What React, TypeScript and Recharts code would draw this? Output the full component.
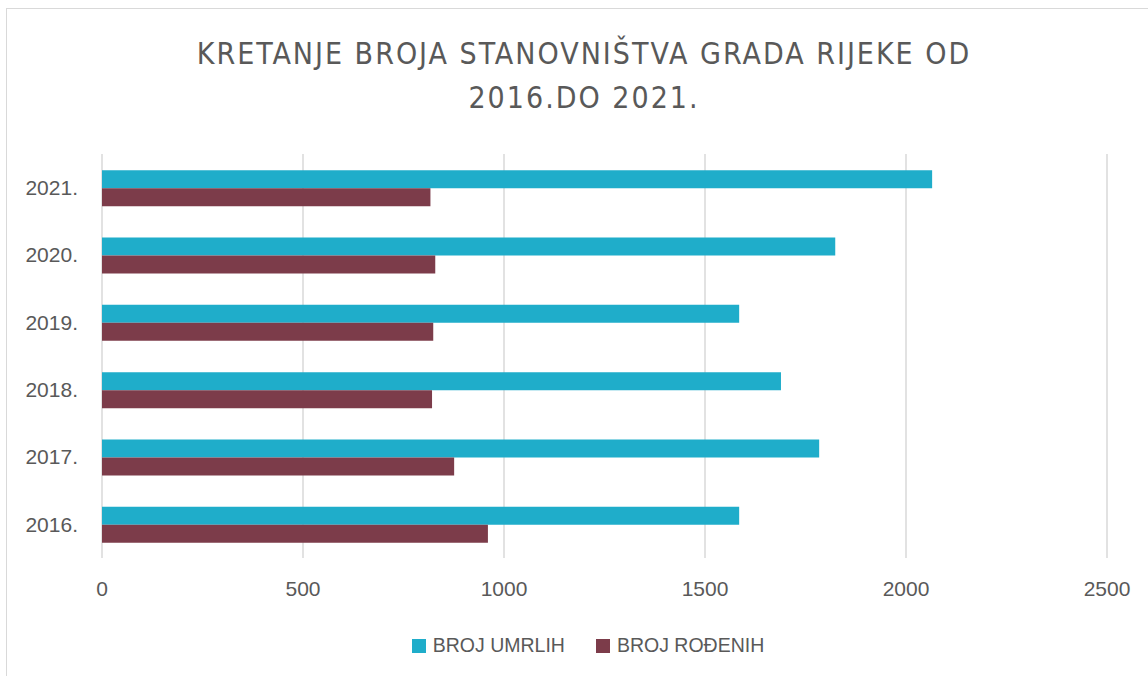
import { BarChart, Bar, XAxis, YAxis, CartesianGrid, Legend } from 'recharts'

const years = ['2016.', '2017.', '2018.', '2019.', '2020.', '2021.']
const brojUmrlih = [1585, 1784, 1689, 1585, 1824, 2065]
const brojRodjenih = [960, 876, 821, 824, 829, 817]
const xTicks = [0, 500, 1000, 1500, 2000, 2500]
const seriesNames = ['BROJ UMRLIH', 'BROJ ROĐENIH']

const data = years.map((year, i) => ({
  year,
  umrlih: brojUmrlih[i],
  rodjenih: brojRodjenih[i],
}))

const textColor = '#595959'
const tickFont = '"Liberation Sans", Arial, sans-serif'

function renderLegend(props: any) {
  // keep the series order, recharts sorts legend items by name otherwise
  const items = [...(props.payload || [])].sort(
    (a: any, b: any) => seriesNames.indexOf(a.value) - seriesNames.indexOf(b.value)
  )
  return (
    <div style={{ display: 'flex', justifyContent: 'center', alignItems: 'center' }}>
      {items.map((item: any, i: number) => (
        <div
          key={item.value}
          style={{ display: 'flex', alignItems: 'center', marginLeft: i > 0 ? 31 : 0 }}
        >
          <span style={{ width: 14, height: 14, background: item.color, marginRight: 7 }} />
          <span style={{ fontFamily: tickFont, fontSize: 19.5, color: textColor }}>{item.value}</span>
        </div>
      ))}
    </div>
  )
}

export default function App() {
  return (
    <div style={{ position: 'fixed', left: 0, top: 0, width: 1148, height: 676, overflow: 'hidden', background: '#fff' }}>
      {/* outer frame, runs off the right and bottom edges like the source */}
      <div
        style={{
          position: 'absolute',
          left: 6,
          top: 8,
          width: 1200,
          height: 700,
          border: '1.5px solid #d9d9d9',
        }}
      />
      <div
        style={{
          position: 'absolute',
          left: 0,
          top: 32,
          width: 1168,
          textAlign: 'center',
          fontFamily: '"DejaVu Sans Condensed", "DejaVu Sans", sans-serif',
          fontSize: 30,
          lineHeight: '44px',
          letterSpacing: 2,
          color: textColor,
        }}
      >
        KRETANJE BROJA STANOVNIŠTVA GRADA RIJEKE OD
        <br />
        2016.DO 2021.
      </div>
      <div style={{ position: 'absolute', left: 0, top: 0 }}>
        <BarChart
          width={1148}
          height={676}
          data={data}
          layout="vertical"
          margin={{ top: 154, right: 41, bottom: 78, left: 0 }}
          barCategoryGap="24%"
          barGap={0}
        >
          <CartesianGrid horizontal={false} stroke="#d9d9d9" strokeWidth={1.5} />
          <XAxis
            type="number"
            domain={[0, 2500]}
            ticks={xTicks}
            height={40}
            axisLine={false}
            tickLine={false}
            tickSize={0}
            tickMargin={23}
            tick={{ fill: textColor, fontSize: 21, fontFamily: tickFont }}
          />
          <YAxis
            type="category"
            dataKey="year"
            reversed
            width={102}
            axisLine={false}
            tickLine={false}
            tickSize={0}
            tickMargin={24}
            tick={{ fill: textColor, fontSize: 21, fontFamily: tickFont }}
          />
          <Legend
            verticalAlign="middle"
            align="center"
            content={renderLegend}
            wrapperStyle={{ top: 634, left: 0, width: 1176 }}
          />
          <Bar
            dataKey="umrlih"
            name="BROJ UMRLIH"
            fill="#1FADCA"
            legendType="square"
            isAnimationActive={false}
          />
          <Bar
            dataKey="rodjenih"
            name="BROJ ROĐENIH"
            fill="#7C3C4A"
            legendType="square"
            isAnimationActive={false}
          />
        </BarChart>
      </div>
    </div>
  )
}
